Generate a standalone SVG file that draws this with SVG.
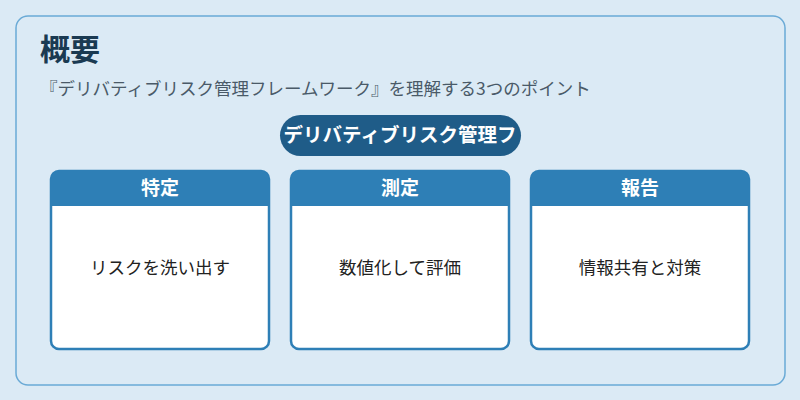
<svg xmlns="http://www.w3.org/2000/svg" width="800" height="400" viewBox="0 0 800 400">
<style>
text{font-family:"Noto Sans CJK JP","Noto Sans",sans-serif}
.card{fill:#fff;stroke:#2e7fb6;stroke-width:2.5}
.hd{fill:#2e7fb6}
.ht{fill:#fff;font-size:19px;font-weight:bold;text-anchor:middle}
.bt{fill:#222;font-size:17.5px;text-anchor:middle}
</style>
<rect width="800" height="400" fill="#dbeaf5"/>
<rect x="16" y="16" width="769" height="369" rx="12" fill="#dbeaf5" stroke="#6aaad6" stroke-width="1.5"/>
<text x="40" y="60" font-size="30" font-weight="bold" fill="#1a3a52">概要</text>
<text x="40" y="95" font-size="17.5" fill="#4a5a68">『デリバティブリスク管理フレームワーク』を理解する3つのポイント</text>
<g id="pill">
<rect x="280" y="115" width="241" height="41" rx="20.5" fill="#1f5c88"/>
<text x="400" y="142" font-size="19.5" font-weight="bold" fill="#fff" text-anchor="middle">デリバティブリスク管理フ</text>
</g>
<g id="n1">
<rect class="card" x="51" y="171" width="218" height="178" rx="8"/>
<path class="hd" d="M51 206V179a8 8 0 0 1 8-8h202a8 8 0 0 1 8 8v27z"/>
<text class="ht" x="160" y="195">特定</text>
<text class="bt" x="160" y="274">リスクを洗い出す</text>
</g>
<g id="n2">
<rect class="card" x="291" y="171" width="218" height="178" rx="8"/>
<path class="hd" d="M291 206V179a8 8 0 0 1 8-8h202a8 8 0 0 1 8 8v27z"/>
<text class="ht" x="400" y="195">測定</text>
<text class="bt" x="400" y="274">数値化して評価</text>
</g>
<g id="n3">
<rect class="card" x="531" y="171" width="218" height="178" rx="8"/>
<path class="hd" d="M531 206V179a8 8 0 0 1 8-8h202a8 8 0 0 1 8 8v27z"/>
<text class="ht" x="640" y="195">報告</text>
<text class="bt" x="640" y="274">情報共有と対策</text>
</g>
<g id="connectors"/>
</svg>
